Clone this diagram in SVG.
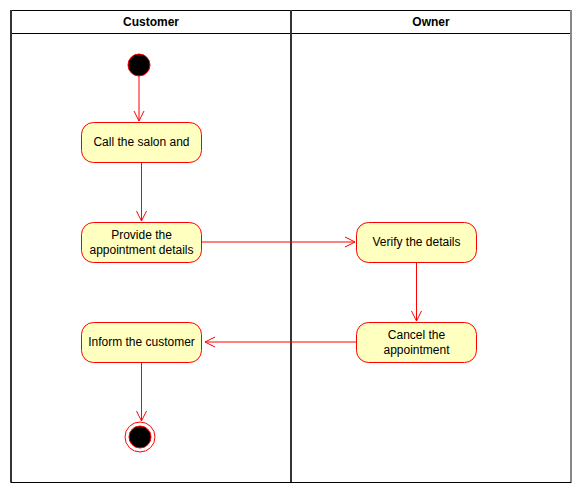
<svg xmlns="http://www.w3.org/2000/svg" width="581" height="493" viewBox="0 0 581 493">
  <style>
    .lane { fill: none; stroke: #000; stroke-width: 1; }
    .lane-edge { stroke: #333; stroke-width: 2; }
    .hdr { font-family: "Liberation Sans", Arial, sans-serif; font-size: 12px; font-weight: bold; fill: #000; text-anchor: middle; }
    .act rect { fill: #ffffc0; stroke: #ff0000; stroke-width: 1; }
    .act text { font-family: "Liberation Sans", Arial, sans-serif; font-size: 12px; fill: #000; text-anchor: middle; }
    .flow { fill: none; stroke: #ff0000; stroke-width: 1; marker-end: url(#open); }
  </style>
  <defs>
    <marker id="open" viewBox="0 0 12 12" refX="11" refY="6" markerWidth="12" markerHeight="12" markerUnits="userSpaceOnUse" orient="auto">
      <path d="M1,1 L11,6 L1,11" fill="none" stroke="#ff0000" stroke-width="1"/>
    </marker>
  </defs>
  <rect width="581" height="493" fill="#fff"/>

  <!-- swimlanes -->
  <g id="lanes">
    <rect class="lane" x="11" y="10.5" width="560" height="472"/>
    <line class="lane" x1="11" y1="33.5" x2="571" y2="33.5"/>
    <line class="lane-edge" x1="11" y1="10" x2="11" y2="482"/>
    <line class="lane-edge" x1="291" y1="10" x2="291" y2="482"/>
    <line x1="571" y1="10" x2="571" y2="483" stroke="#888" stroke-width="2"/>
    <line class="lane" x1="11" y1="482.5" x2="571" y2="482.5"/>
    <text class="hdr" x="151" y="26">Customer</text>
    <text class="hdr" x="431" y="26">Owner</text>
  </g>

  <!-- connectors -->
  <g id="connectors">
    <line class="flow" x1="139" y1="76" x2="139" y2="121"/>
    <line class="flow" x1="141.5" y1="162" x2="141.5" y2="221"/>
    <line class="flow" x1="202" y1="242" x2="355" y2="242"/>
    <line class="flow" x1="416.5" y1="262" x2="416.5" y2="321"/>
    <line class="flow" x1="356" y1="342" x2="205" y2="342"/>
    <line class="flow" x1="141.5" y1="362" x2="141.5" y2="421"/>
  </g>

  <g id="start">
    <circle cx="139" cy="65" r="11" fill="#000" stroke="#ff0000" stroke-width="1"/>
  </g>

  <g id="call-salon" class="act">
    <rect x="81.5" y="122.5" width="120" height="40" rx="12"/>
    <text x="141.5" y="146">Call the salon and</text>
  </g>

  <g id="provide-details" class="act">
    <rect x="81.5" y="222.5" width="120" height="40" rx="12"/>
    <text x="141.5" y="239">Provide the</text>
    <text x="141.5" y="253.5">appointment details</text>
  </g>

  <g id="verify-details" class="act">
    <rect x="356.5" y="222.5" width="120" height="40" rx="12"/>
    <text x="416.5" y="246">Verify the details</text>
  </g>

  <g id="cancel-appointment" class="act">
    <rect x="356.5" y="322.5" width="120" height="40" rx="12"/>
    <text x="416.5" y="339">Cancel the</text>
    <text x="416.5" y="353.5">appointment</text>
  </g>

  <g id="inform-customer" class="act">
    <rect x="81.5" y="322.5" width="120" height="40" rx="12"/>
    <text x="141.5" y="346">Inform the customer</text>
  </g>

  <g id="end">
    <circle cx="140" cy="437" r="15" fill="#fff" stroke="#ff0000" stroke-width="1"/>
    <circle cx="140" cy="437" r="11" fill="#000" stroke="#ff0000" stroke-width="1"/>
  </g>
</svg>
